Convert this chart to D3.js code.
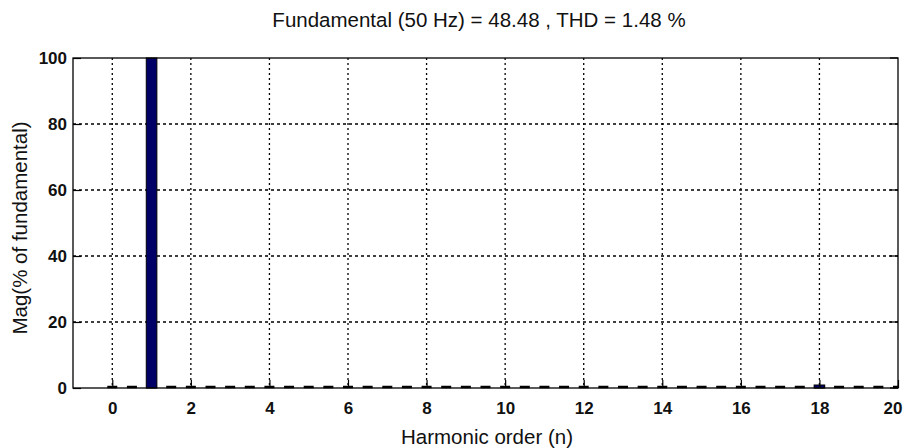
<!DOCTYPE html>
<html><head><meta charset="utf-8">
<script src="https://cdn.jsdelivr.net/npm/d3@7"></script>
<style>
body{margin:0;background:#fff;}
svg{display:block;}
.tick text{font-family:"Liberation Sans Narrow","Liberation Sans",Arial,sans-serif;font-weight:bold;font-size:17px;fill:#111;}
</style></head><body>
<script>
const harmonics = [0,1,2,3,4,5,6,7,8,9,10,11,12,13,14,15,16,17,18,19,20];
const magnitudes = [0,100,0,0,0,0,0,0,0,0,0,0,0,0,0,0,0,0,0.7,0,0];
const xTicks = [0,2,4,6,8,10,12,14,16,18,20];
const yTicks = [0,20,40,60,80,100];
const titleText = "Fundamental (50 Hz) = 48.48 , THD = 1.48 %";
const xLabel = "Harmonic order (n)";
const yLabel = "Mag(% of fundamental)";

const W=906,H=448;
const m={left:73,right:8,top:58,bottom:60};
const svg=d3.select("body").append("svg").attr("width",W).attr("height",H);
const x=d3.scaleLinear().domain([-1,20]).range([m.left,W-m.right]);
const y=d3.scaleLinear().domain([0,100]).range([H-m.bottom,m.top]);
const x0=m.left,x1=W-m.right,y0=H-m.bottom,y1=m.top;

// grid
const g=svg.append("g");
g.selectAll(".vg").data(xTicks.filter(d=>d<20)).enter().append("line")
 .attr("x1",d=>x(d)).attr("x2",d=>x(d)).attr("y1",y1).attr("y2",y0)
 .attr("stroke","#000").attr("stroke-width",1.3).attr("stroke-dasharray","2,3");
g.selectAll(".hg").data(yTicks.filter(d=>d>0&&d<100)).enter().append("line")
 .attr("x1",x0).attr("x2",x1).attr("y1",d=>y(d)).attr("y2",d=>y(d))
 .attr("stroke","#000").attr("stroke-width",1.3).attr("stroke-dasharray","3,3");

// zero-height bins dashed along baseline
const period=x(0.5)-x(0);
svg.append("line").attr("x1",x(0)-5).attr("x2",x1).attr("y1",y0-1).attr("y2",y0-1)
 .attr("stroke","#000").attr("stroke-width",2.5).attr("stroke-dasharray",`10,${period-10}`);

// bars
const bw=x(0.27)-x(0);
svg.selectAll(".bar").data(harmonics.map((h,i)=>({h,v:magnitudes[i]})).filter(d=>d.v>0)).enter().append("rect")
 .attr("x",d=>x(d.h)-bw/2).attr("width",bw)
 .attr("y",d=>Math.min(y(d.v),y0-3)).attr("height",d=>Math.max(y0-y(d.v),3))
 .attr("fill","#000066").attr("stroke","#000").attr("stroke-width",1);

// axes
const xa=svg.append("g").attr("transform",`translate(0,${y0})`)
 .call(d3.axisBottom(x).tickValues(xTicks).tickSize(-8).tickPadding(14));
const ya=svg.append("g").attr("transform",`translate(${x0},0)`)
 .call(d3.axisLeft(y).tickValues(yTicks).tickSize(-8).tickPadding(6));
[xa,ya].forEach(a=>{a.select(".domain").remove();a.selectAll(".tick line").attr("stroke","#000").attr("stroke-width",1.2);});
ya.selectAll(".tick text").attr("dy","0.35em");
xa.selectAll(".tick text").filter(d=>d===20).attr("text-anchor","end").attr("dx",4);
// right side ticks
svg.selectAll(".rt").data(yTicks).enter().append("line")
 .attr("x1",x1).attr("x2",x1-8).attr("y1",d=>y(d)).attr("y2",d=>y(d)).attr("stroke","#000").attr("stroke-width",1.2);

// frame
svg.append("rect").attr("x",x0).attr("y",y1).attr("width",x1-x0).attr("height",y0-y1)
 .attr("fill","none").attr("stroke","#000").attr("stroke-width",1.3);

// labels
const lf="Liberation Sans,Arial,sans-serif";
svg.append("text").attr("x",479).attr("y",27).attr("text-anchor","middle")
 .attr("font-family",lf).attr("font-size",20.5).attr("fill","#111").text(titleText);
svg.append("text").attr("x",487).attr("y",444).attr("text-anchor","middle")
 .attr("font-family",lf).attr("font-size",20.5).attr("fill","#111").text(xLabel);
svg.append("text").attr("transform","translate(27,228) rotate(-90)").attr("text-anchor","middle")
 .attr("font-family",lf).attr("font-size",20.5).attr("fill","#111").text(yLabel);
</script>
</body></html>
